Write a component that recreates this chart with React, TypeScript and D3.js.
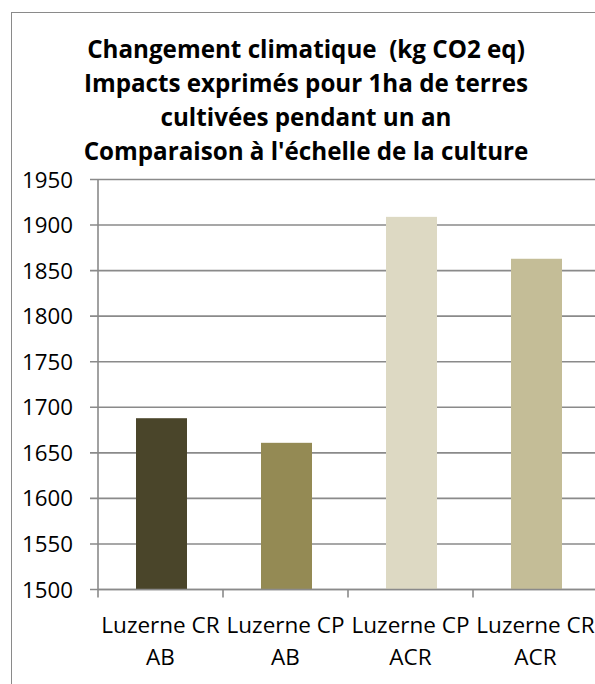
import React from "react";
import * as d3 from "d3";

const categoriesLine1 = ["Luzerne CR", "Luzerne CP", "Luzerne CP", "Luzerne CR"];
const categoriesLine2 = ["AB", "AB", "ACR", "ACR"];
const values = [1688, 1661, 1909, 1863];
const barColors = ["#4A452A", "#948A54", "#DDD9C3", "#C4BD97"];
const yTicks = [1500, 1550, 1600, 1650, 1700, 1750, 1800, 1850, 1900, 1950];
const titleLines = [
  "Changement climatique  (kg CO2 eq)",
  "Impacts exprimés pour 1ha de terres",
  "cultivées pendant un an",
  "Comparaison à l'échelle de la culture",
];

const W = 595;
const H = 684;
const plot = { left: 98, right: 598, top: 179.5, bottom: 589.5 };
const font = "'Open Sans', Lato, sans-serif";

export default function App() {
  const ids = categoriesLine1.map((_, i) => String(i));
  const x = d3.scaleBand<string>().domain(ids).range([plot.left, plot.right]).paddingInner(0).paddingOuter(0);
  const y = d3.scaleLinear().domain([1500, 1950]).range([plot.bottom, plot.top]);
  const barW = 51;
  const grid = "#8a8a8a";

  return (
    <svg width={W} height={H} style={{ position: "absolute", left: 0, top: 0, background: "#fff", fontVariantLigatures: "none" }}>
      <rect x={11.5} y={12.5} width={W + 20} height={H + 20} fill="#fff" stroke="#8a8a8a" strokeWidth={1} />
      {titleLines.map((t, i) => (
        <text key={i} x={306} y={58 + i * 34} textAnchor="middle" fontFamily={font} fontWeight="bold" fontSize={24.2} fill="#000" style={{ whiteSpace: "pre" }}>
          {t}
        </text>
      ))}
      {yTicks.map((v) => (
        <g key={v}>
          <line x1={plot.left - 8} x2={plot.right} y1={y(v)} y2={y(v)} stroke={grid} strokeWidth={1.6} />
          <text x={73} y={y(v) + 8} textAnchor="end" fontFamily={font} fontSize={22.3} fill="#000">
            {v}
          </text>
        </g>
      ))}
      {values.map((v, i) => {
        const cx = (x(ids[i]) as number) + x.bandwidth() / 2 + 1;
        return (
          <rect key={i} x={cx - barW / 2} y={y(v)} width={barW} height={y(1500) - y(v)} fill={barColors[i]} />
        );
      })}
      <line x1={plot.left} x2={plot.left} y1={plot.top} y2={plot.bottom} stroke={grid} strokeWidth={1.6} />
      <line x1={plot.left} x2={plot.right} y1={plot.bottom} y2={plot.bottom} stroke={grid} strokeWidth={1.6} />
      {ids.concat(["4"]).map((id, i) => {
        const xx = plot.left + i * x.bandwidth();
        return <line key={id} x1={xx} x2={xx} y1={plot.bottom} y2={plot.bottom + 8} stroke={grid} strokeWidth={1.6} />;
      })}
      {ids.map((id, i) => {
        const cx = (x(id) as number) + x.bandwidth() / 2;
        return (
          <g key={id}>
            <text x={cx} y={633} textAnchor="middle" fontFamily={font} fontSize={22.5} fill="#000">
              {categoriesLine1[i]}
            </text>
            <text x={cx} y={665} textAnchor="middle" fontFamily={font} fontSize={22.5} fill="#000">
              {categoriesLine2[i]}
            </text>
          </g>
        );
      })}
    </svg>
  );
}
